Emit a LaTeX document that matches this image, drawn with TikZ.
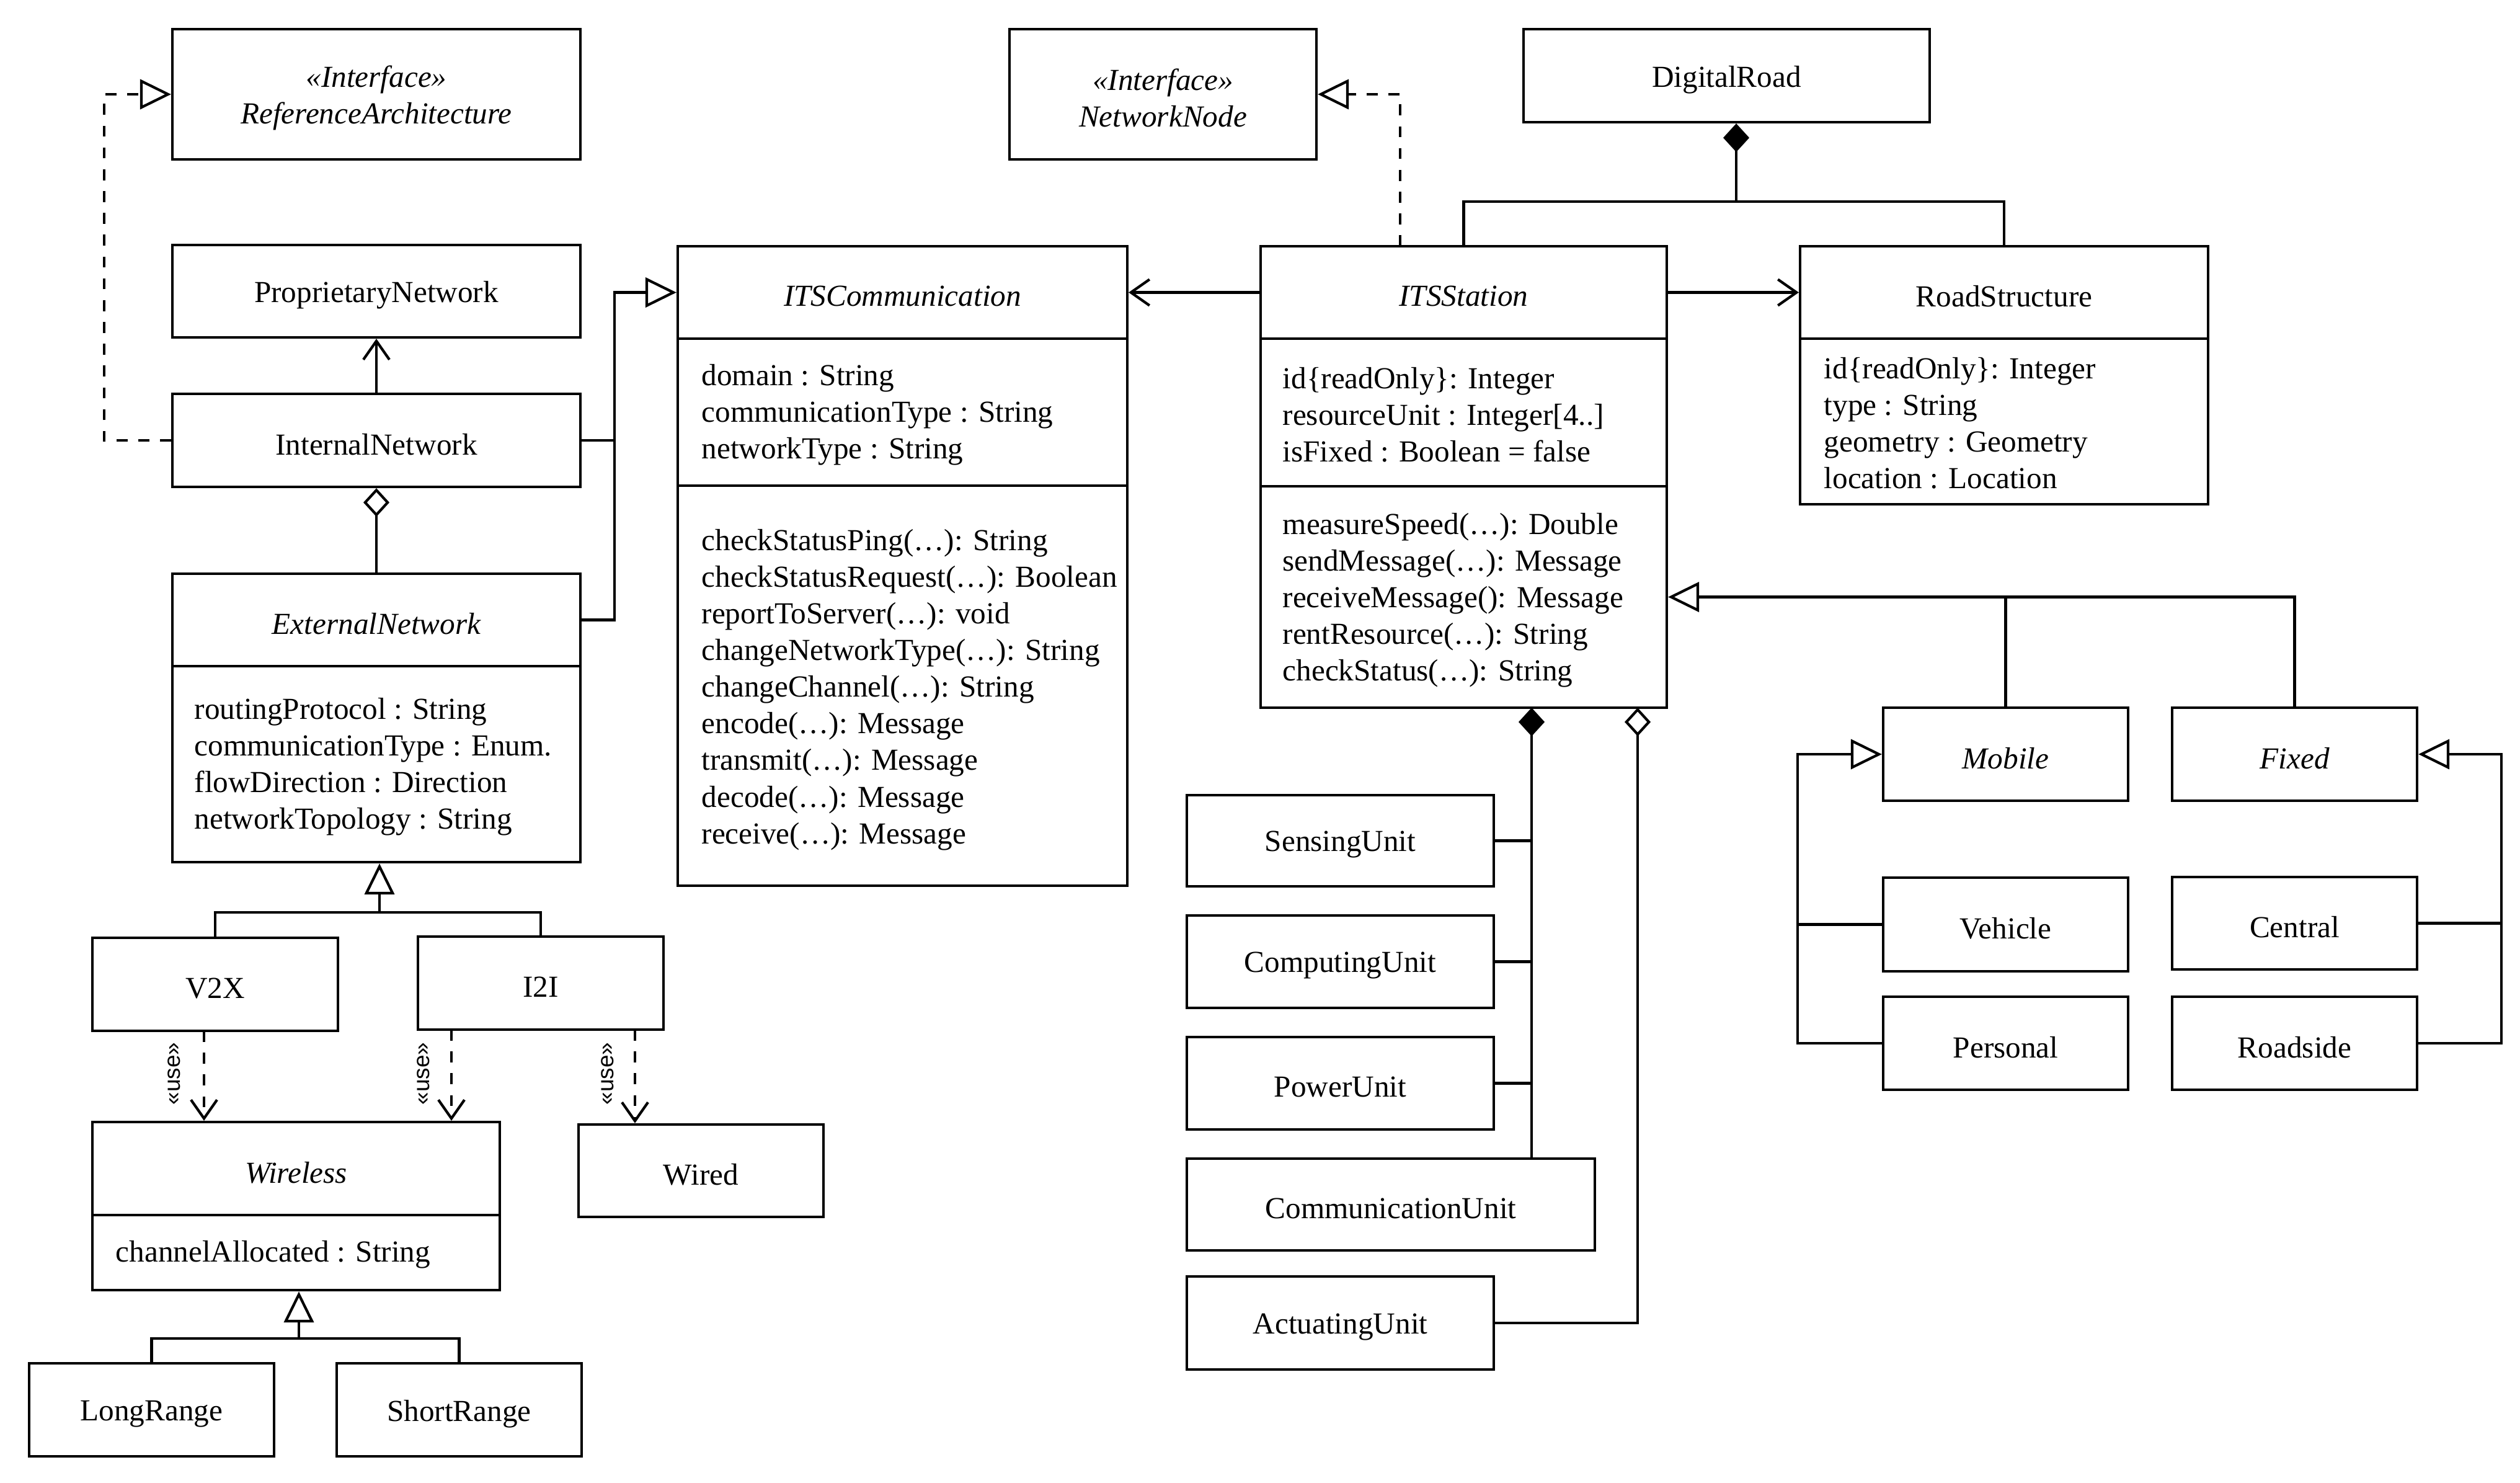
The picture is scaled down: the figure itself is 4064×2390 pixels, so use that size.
\documentclass[tikz,border=0pt]{standalone}
\usepackage{fontspec}
\setmainfont{Liberation Serif}
\newfontfamily\lblsans{Liberation Sans}
\usetikzlibrary{arrows.meta,fit,calc}
\newcommand{\fsz}{\fontsize{14}{16.8}\selectfont}
\tikzset{
  box/.style={draw, line width=1.2pt, inner sep=0pt},
  lbl/.style={inner sep=0pt, font=\fsz, align=center, yshift=-1.8pt},
  ilbl/.style={inner sep=0pt, font=\fsz\itshape, align=center, yshift=-1.8pt},
  ln/.style={line width=1.2pt},
  gen/.style={ln, -{Triangle[open,length=0.5cm,width=0.48cm]}},
  realize/.style={gen, dash pattern=on 5pt off 5pt},
  assoc/.style={ln, -{Straight Barb[length=0.3cm,width=0.42cm]}},
  usearrow/.style={assoc, dash pattern=on 5pt off 5pt},
  aggr/.style={ln, {Diamond[open,length=0.46cm,width=0.42cm]}-},
  comp/.style={ln, {Diamond[length=0.46cm,width=0.42cm]}-},
  txt/.style={inner sep=0pt, align=left, anchor=west, font=\fsz},
  uselbl/.style={rotate=90, font=\lblsans\fontsize{10.5}{12}\selectfont, inner sep=0pt},
}
\begin{document}
\begin{tikzpicture}[x=0.01cm,y=-0.01cm]
\path[use as bounding box, fill=white] (0,0) rectangle (4064,2390);

% ---------- left column ----------
\node[box, fit={(278,47)(936,257)}] (refarch) {};
\node[ilbl] (refarchl) at (refarch.center) {«Interface»\\ReferenceArchitecture};
\node[box, fit={(278,395)(936,544)}] (propnet) {};
\node[lbl] (propnetl) at (propnet.center) {ProprietaryNetwork};
\node[box, fit={(278,635)(936,785)}] (intnet) {};
\node[lbl] (intnetl) at (intnet.center) {InternalNetwork};
\node[box, fit={(278,925)(936,1074)}] (extnett) {};
\node[ilbl] (extnetl) at (extnett.center) {ExternalNetwork};
\node[box, fit={(278,1074)(936,1390)}] (extneta) {};
\node[txt] (extnetx) at (313,1236) {routingProtocol : String\\communicationType : Enum.\\flowDirection : Direction\\networkTopology : String};

\node[box, fit={(149,1512)(545,1662)}] (v2x) {};
\node[lbl] (v2xl) at (v2x.center) {V2X};
\node[box, fit={(674,1510)(1070,1660)}] (i2i) {};
\node[lbl] (i2il) at (i2i.center) {I2I};
\node[box, fit={(149,1809)(806,1959)}] (wirelesst) {};
\node[ilbl] (wirelessl) at (wirelesst.center) {Wireless};
\node[box, fit={(149,1959)(806,2080)}] (wirelessa) {};
\node[txt] (wirelessx) at (186,2023) {channelAllocated : String};
\node[box, fit={(933,1813)(1328,1962)}] (wired) {};
\node[lbl] (wiredl) at (wired.center) {Wired};
\node[box, fit={(47,2198)(442,2348)}] (longr) {};
\node[lbl] (longrl) at (longr.center) {LongRange};
\node[box, fit={(543,2198)(938,2348)}] (shortr) {};
\node[lbl] (shortrl) at (shortr.center) {ShortRange};

% ---------- ITSCommunication ----------
\node[box, fit={(1093,397)(1818,546)}] (itscommt) {};
\node[ilbl] (itscomml) at (itscommt.center) {ITSCommunication};
\node[box, fit={(1093,546)(1818,783)}] (itscomma) {};
\node[box, fit={(1093,783)(1818,1428)}] (itscommm) {};
\node[txt] (itscommx) at (1131,669) {domain : String\\communicationType : String\\networkType : String};
\node[txt] (itscommy) at (1131,1112) {checkStatusPing(…): String\\checkStatusRequest(…): Boolean\\reportToServer(…): void\\changeNetworkType(…): String\\changeChannel(…): String\\encode(…): Message\\transmit(…): Message\\decode(…): Message\\receive(…): Message};

% ---------- top middle ----------
\node[box, fit={(1628,47)(2123,257)}] (netnode) {};
\node[ilbl] (netnodel) at (netnode.center) {«Interface»\\NetworkNode};
\node[box, fit={(2457,47)(3112,197)}] (digroad) {};
\node[lbl] (digroadl) at (digroad.center) {DigitalRoad};

% ---------- ITSStation ----------
\node[box, fit={(2033,397)(2688,546)}] (itsstt) {};
\node[ilbl] (itsstl) at (itsstt.center) {ITSStation};
\node[box, fit={(2033,546)(2688,784)}] (itssta) {};
\node[box, fit={(2033,784)(2688,1141)}] (itsstm) {};
\node[txt] (itsstx) at (2068,669) {id\{readOnly\}: Integer\\resourceUnit : Integer[4..]\\isFixed : Boolean = false};
\node[txt] (itssty) at (2068,968) {measureSpeed(…): Double\\sendMessage(…): Message\\receiveMessage(): Message\\rentResource(…): String\\checkStatus(…): String};

% ---------- RoadStructure ----------
\node[box, fit={(2903,397)(3561,546)}] (roadt) {};
\node[lbl] (roadl) at (roadt.center) {RoadStructure};
\node[box, fit={(2903,546)(3561,813)}] (roada) {};
\node[txt] (roadx) at (2941,682) {id\{readOnly\}: Integer\\type : String\\geometry : Geometry\\location : Location};

% ---------- units ----------
\node[box, fit={(1914,1282)(2409,1429)}] (sensu) {};
\node[lbl] (sensul) at (sensu.center) {SensingUnit};
\node[box, fit={(1914,1476)(2409,1625)}] (compu) {};
\node[lbl] (compul) at (compu.center) {ComputingUnit};
\node[box, fit={(1914,1672)(2409,1821)}] (poweru) {};
\node[lbl] (powerul) at (poweru.center) {PowerUnit};
\node[box, fit={(1914,1868)(2572,2016)}] (commu) {};
\node[lbl] (commul) at (commu.center) {CommunicationUnit};
\node[box, fit={(1914,2058)(2409,2208)}] (actu) {};
\node[lbl] (actul) at (actu.center) {ActuatingUnit};

% ---------- right ----------
\node[box, fit={(3037,1141)(3432,1291)}] (mobile) {};
\node[ilbl] (mobilel) at (mobile.center) {Mobile};
\node[box, fit={(3503,1141)(3898,1291)}] (fixed) {};
\node[ilbl] (fixedl) at (fixed.center) {Fixed};
\node[box, fit={(3037,1415)(3432,1566)}] (vehicle) {};
\node[lbl] (vehiclel) at (vehicle.center) {Vehicle};
\node[box, fit={(3037,1607)(3432,1757)}] (personal) {};
\node[lbl] (personall) at (personal.center) {Personal};
\node[box, fit={(3503,1414)(3898,1563)}] (central) {};
\node[lbl] (centrall) at (central.center) {Central};
\node[box, fit={(3503,1607)(3898,1757)}] (roadside) {};
\node[lbl] (roadsidel) at (roadside.center) {Roadside};

% ---------- connectors ----------
\draw[realize] (intnet.west) -- ++(-108,0) |- (refarch.west);
\draw[assoc] (intnet.north) -- (propnet.south);
\draw[aggr] (intnet.south) -- (extnett.north);
\draw[ln] (intnet.east) -- ++(53,0);
\draw[gen] (extnett.east) -- ++(53,0) |- (itscommt.west);

\coordinate (g1) at (612,1471);
\draw[ln] (v2x.north) |- (g1) -| (i2i.north);
\draw[gen] (g1) -- (g1 |- extneta.south);

\coordinate (u1) at (329,1662);
\coordinate (u2) at (728,1660);
\coordinate (u3) at (1024,1660);
\draw[usearrow] (u1) -- (u1 |- wirelesst.north);
\draw[usearrow] (u2) -- (u2 |- wirelesst.north);
\draw[usearrow] (u3) -- (u3 |- wired.north);
\node[uselbl] (l1) at (281,1731) {«use»};
\node[uselbl] (l2) at (683,1731) {«use»};
\node[uselbl] (l3) at (980,1731) {«use»};

\coordinate (g2) at (482,2158);
\draw[ln] (longr.north) |- (g2) -| (shortr.north);
\draw[gen] (g2) -- (g2 |- wirelessa.south);

\draw[assoc] (itsstt.west) -- (itscommt.east);
\draw[assoc] (itsstt.east) -- (roadt.west);

\coordinate (r2) at (2258,397);
\draw[realize] (r2) |- (netnode.east);

\coordinate (d1) at (2800,325);
\draw[comp] (d1 |- digroad.south) -- (d1);
\draw[ln] (itsstt.north) |- (d1) -| (roadt.north);

\draw[gen] (mobile.north) |- (itsstm.east);
\draw[ln] (fixed.north) |- (mobile.north |- itsstm.east);

\draw[gen] (personal.west) -- ++(-136,0) |- (mobile.west);
\draw[ln] (vehicle.west) -- ++(-136,0);
\draw[gen] (roadside.east) -- ++(134,0) |- (fixed.east);
\draw[ln] (central.east) -- ++(134,0);

\coordinate (c1) at (2470,1141);
\draw[comp] (c1) -- (c1 |- commu.north);
\draw[ln] (sensu.east) -- (sensu.east -| c1);
\draw[ln] (compu.east) -- (compu.east -| c1);
\draw[ln] (poweru.east) -- (poweru.east -| c1);
\coordinate (c2) at (2641,1141);
\draw[aggr] (c2) |- (actu.east);
\end{tikzpicture}
\end{document}
